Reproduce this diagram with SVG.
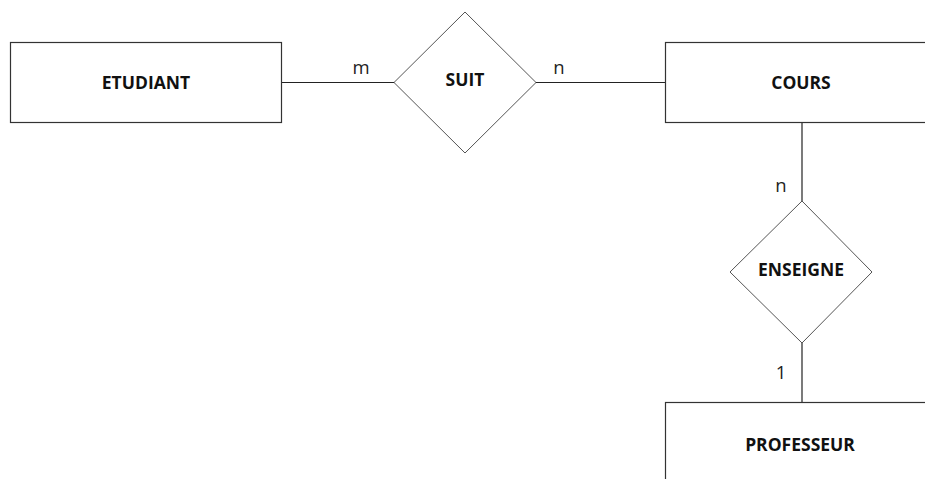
<svg xmlns="http://www.w3.org/2000/svg" width="925" height="479" viewBox="0 0 925 479">
  <style>
    .entity { fill: #ffffff; stroke: #333333; stroke-width: 1.2; }
    .relation { fill: #ffffff; stroke: #555555; stroke-width: 1; }
    .link { stroke: #222222; stroke-width: 1.2; fill: none; }
    .label { font-family: "Open Sans", "Liberation Sans", sans-serif; font-weight: bold; font-size: 17.5px; fill: #111111; text-anchor: middle; dominant-baseline: central; }
    .card { font-family: "Open Sans", "Liberation Sans", sans-serif; font-size: 18.5px; fill: #222222; text-anchor: middle; }
  </style>
  <rect width="925" height="479" fill="#ffffff"/>

  <g id="connectors">
    <line class="link" x1="282" y1="82.5" x2="394" y2="82.5"/>
    <line class="link" x1="536" y1="82.5" x2="666" y2="82.5"/>
    <line class="link" x1="802" y1="123" x2="802" y2="201"/>
    <line class="link" x1="802" y1="343" x2="802" y2="402"/>
    <text class="card" x="361" y="74">m</text>
    <text class="card" x="559" y="74">n</text>
    <text class="card" x="781" y="192">n</text>
    <text class="card" x="781" y="379">1</text>
  </g>

  <g id="etudiant">
    <rect class="entity" x="10.5" y="42.5" width="271" height="80"/>
    <text class="label" x="146" y="82">ETUDIANT</text>
  </g>

  <g id="suit">
    <polygon class="relation" points="465,12 536,82.5 465,153 394,82.5"/>
    <text class="label" x="465" y="79">SUIT</text>
  </g>

  <g id="cours">
    <rect class="entity" x="665.5" y="42.5" width="270" height="80"/>
    <text class="label" x="801" y="82">COURS</text>
  </g>

  <g id="enseigne">
    <polygon class="relation" points="802,201 872,272 802,343 730,272"/>
    <text class="label" x="801" y="269">ENSEIGNE</text>
  </g>

  <g id="professeur">
    <rect class="entity" x="665.5" y="402.5" width="270" height="90"/>
    <text class="label" x="800" y="444">PROFESSEUR</text>
  </g>
</svg>
